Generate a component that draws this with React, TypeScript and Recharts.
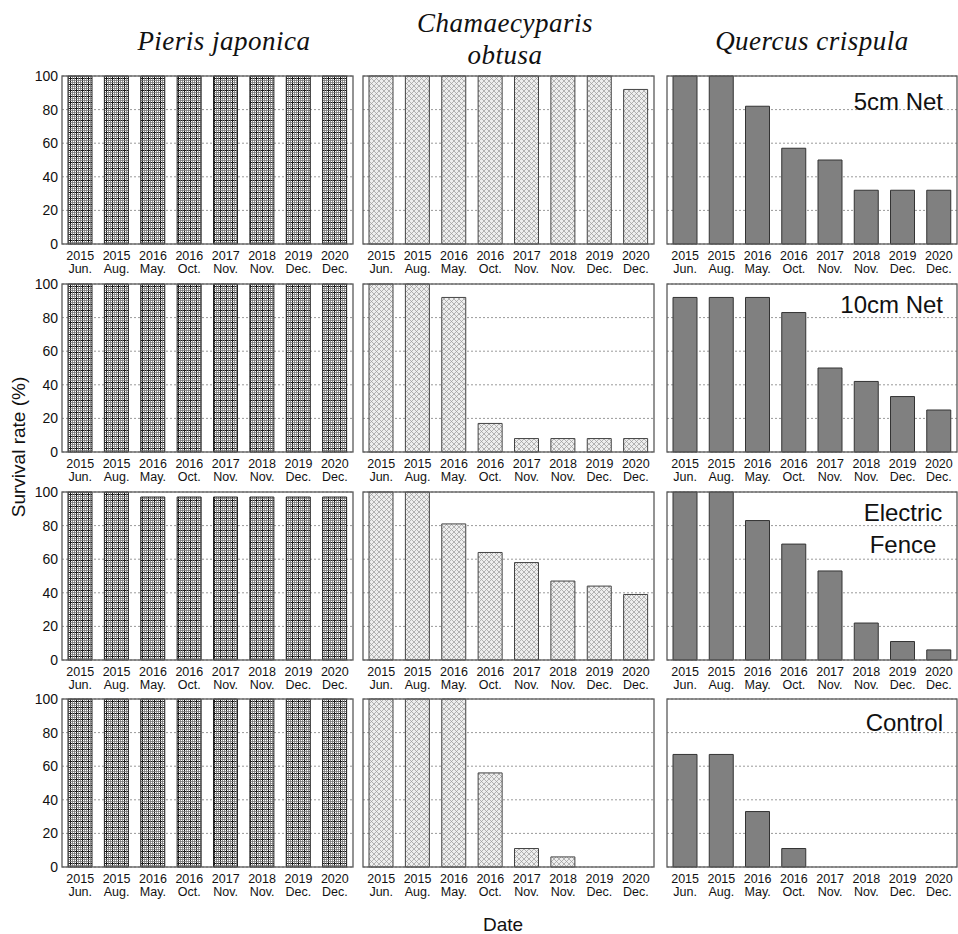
import React from 'react';
import { BarChart, Bar, XAxis, YAxis, CartesianGrid } from 'recharts';

// sampling dates (two-line tick labels)
const years = ['2015', '2015', '2016', '2016', '2017', '2018', '2019', '2020'];
const months = ['Jun.', 'Aug.', 'May.', 'Oct.', 'Nov.', 'Nov.', 'Dec.', 'Dec.'];

const species = ['Pieris japonica', 'Chamaecyparis obtusa', 'Quercus crispula'];
const treatments = ['5cm Net', '10cm Net', 'Electric Fence', 'Control'];
const yTicks = [0, 20, 40, 60, 80, 100];

// survival rate (%) per species and treatment
const pierisNet5 = [100, 100, 100, 100, 100, 100, 100, 100];
const pierisNet10 = [100, 100, 100, 100, 100, 100, 100, 100];
const pierisFence = [100, 100, 97, 97, 97, 97, 97, 97];
const pierisControl = [100, 100, 100, 100, 100, 100, 100, 100];

const hinokiNet5 = [100, 100, 100, 100, 100, 100, 100, 92];
const hinokiNet10 = [100, 100, 92, 17, 8, 8, 8, 8];
const hinokiFence = [100, 100, 81, 64, 58, 47, 44, 39];
const hinokiControl = [100, 100, 100, 56, 11, 6, 0, 0];

const quercusNet5 = [100, 100, 82, 57, 50, 32, 32, 32];
const quercusNet10 = [92, 92, 92, 83, 50, 42, 33, 25];
const quercusFence = [100, 100, 83, 69, 53, 22, 11, 6];
const quercusControl = [67, 67, 33, 11, 0, 0, 0, 0];

const series = [
  [pierisNet5, hinokiNet5, quercusNet5],
  [pierisNet10, hinokiNet10, quercusNet10],
  [pierisFence, hinokiFence, quercusFence],
  [pierisControl, hinokiControl, quercusControl],
];

// panel geometry
const PLOT_X = [62, 363, 667];
const PLOT_W = [291, 291, 290];
const PLOT_Y = [76, 284, 492, 699];
const PLOT_H = 168;
const YAXIS_W = 40;
const AXIS_H = 36;
const PAD = 4;
const PAD_TOP = 10;

const SANS = '"Liberation Sans", Arial, sans-serif';
const SERIF = '"Liberation Serif", "Times New Roman", serif';

const toRows = (values: number[]) =>
  values.map((v, i) => ({ date: `${years[i]} ${months[i]}`, value: v }));

const DateTick = ({ x, y, payload }: any) => {
  const [yr, mo] = String(payload.value).split(' ');
  return (
    <g transform={`translate(${x},${y})`}>
      <text textAnchor="middle" fontSize={12.5} fill="#111" fontFamily={SANS}>
        <tspan x={0} y={16}>{yr}</tspan>
        <tspan x={0} y={29}>{mo}</tspan>
      </text>
    </g>
  );
};

function PatternDefs({ id }: { id: string }) {
  return (
    <defs>
      <pattern id={`${id}-grid`} width={6} height={6} patternUnits="userSpaceOnUse">
        <rect width={6} height={6} fill="#fff" />
        <path d="M0.5,0 V6 M0,0.5 H6" stroke="#1a1a1a" strokeWidth={1} />
        <path d="M2.5,0 V6 M4.5,0 V6 M0,2.5 H6 M0,4.5 H6" stroke="#777" strokeWidth={0.8} />
      </pattern>
      <pattern id={`${id}-cross`} width={5} height={5} patternUnits="userSpaceOnUse">
        <rect width={5} height={5} fill="#eeeeee" />
        <path d="M0,0 L5,5 M5,0 L0,5" stroke="#9a9a9a" strokeWidth={0.7} />
      </pattern>
    </defs>
  );
}

function Panel({ row, col }: { row: number; col: number }) {
  const id = `p${row}${col}`;
  const withAxis = col === 0;
  const left = withAxis ? PLOT_X[col] - YAXIS_W : PLOT_X[col] - PAD;
  const width = (withAxis ? YAXIS_W : PAD) + PLOT_W[col] + PAD;
  const fills = [`url(#${id}-grid)`, `url(#${id}-cross)`, '#808080'];
  const strokes = ['#222', '#444', '#333'];
  return (
    <div style={{ position: 'absolute', left, top: PLOT_Y[row] - PAD_TOP }}>
      <BarChart
        width={width}
        height={PAD_TOP + PLOT_H + AXIS_H}
        data={toRows(series[row][col])}
        margin={{ top: PAD_TOP, right: PAD, bottom: 0, left: withAxis ? 0 : PAD }}
      >
        <PatternDefs id={id} />
        <CartesianGrid vertical={false} stroke="#9a9a9a" strokeDasharray="2 2" />
        <XAxis
          dataKey="date"
          interval={0}
          tick={<DateTick />}
          tickLine={false}
          axisLine={false}
          tickSize={0}
          tickMargin={0}
          height={AXIS_H}
        />
        <YAxis
          hide={!withAxis}
          width={YAXIS_W}
          domain={[0, 100]}
          ticks={yTicks}
          interval={0}
          tickLine={false}
          axisLine={false}
          tickSize={0}
          tickMargin={4}
          tick={{ fontSize: 14, fill: '#111', fontFamily: SANS }}
        />
        <Bar
          dataKey="value"
          barSize={24}
          fill={fills[col]}
          stroke={strokes[col]}
          strokeWidth={1}
          isAnimationActive={false}
        />
      </BarChart>
    </div>
  );
}

export default function App() {
  return (
    <div
      style={{
        position: 'absolute',
        left: 0,
        top: 0,
        width: 958,
        height: 934,
        overflow: 'hidden',
        background: '#fff',
      }}
    >
      {series.map((_, row) =>
        species.map((__, col) => <Panel key={`${row}-${col}`} row={row} col={col} />)
      )}
      <svg
        width={958}
        height={934}
        style={{ position: 'absolute', left: 0, top: 0, pointerEvents: 'none' }}
      >
        {/* panel frames */}
        {PLOT_Y.map((py) =>
          PLOT_X.map((px, c) => (
            <rect
              key={`${px}-${py}`}
              x={px}
              y={py}
              width={PLOT_W[c]}
              height={PLOT_H}
              fill="none"
              stroke="#5a5a5a"
              strokeWidth={1.3}
            />
          ))
        )}
        {/* species headings */}
        <g fontFamily={SERIF} fontStyle="italic" fontSize={27} fill="#111" textAnchor="middle" letterSpacing={0.5}>
          <text x={224} y={50}>{species[0]}</text>
          <text x={505} y={32}>{species[1].split(' ')[0]}</text>
          <text x={505} y={64}>{species[1].split(' ')[1]}</text>
          <text x={812} y={50}>{species[2]}</text>
        </g>
        {/* treatment labels */}
        <g fontFamily={SANS} fontSize={24} fill="#111">
          <text x={943} y={110} textAnchor="end">{treatments[0]}</text>
          <text x={943} y={313} textAnchor="end">{treatments[1]}</text>
          <text x={903} y={521} textAnchor="middle">{treatments[2].split(' ')[0]}</text>
          <text x={903} y={553} textAnchor="middle">{treatments[2].split(' ')[1]}</text>
          <text x={943} y={731} textAnchor="end">{treatments[3]}</text>
        </g>
        <text
          transform="translate(25,447) rotate(-90)"
          textAnchor="middle"
          fontFamily={SANS}
          fontSize={19}
          fill="#111"
        >
          Survival rate (%)
        </text>
        <text x={503} y={931} textAnchor="middle" fontFamily={SANS} fontSize={19} fill="#111">
          Date
        </text>
      </svg>
    </div>
  );
}
